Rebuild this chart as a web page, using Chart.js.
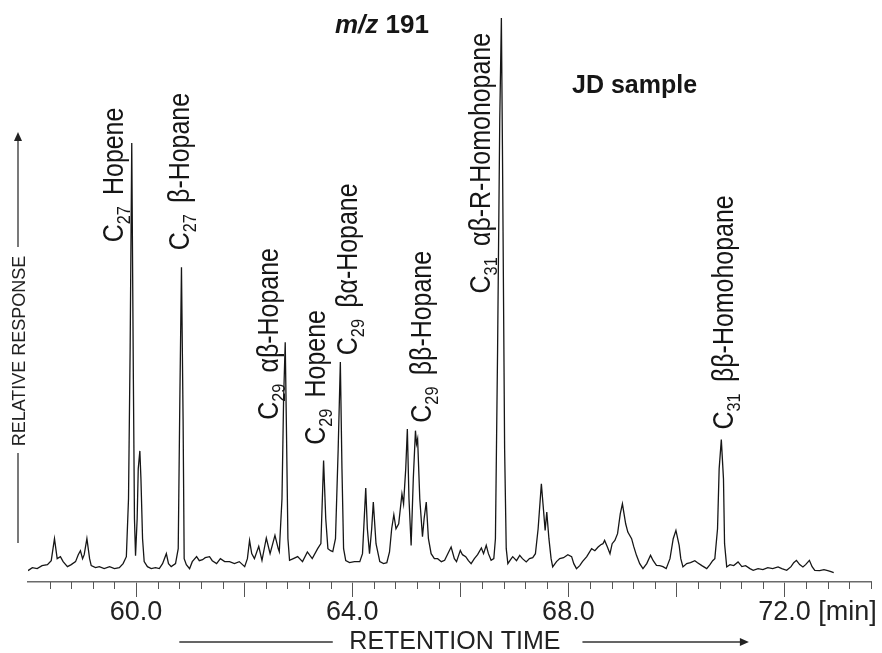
<!DOCTYPE html>
<html>
<head>
<meta charset="utf-8">
<title>m/z 191 - JD sample</title>
<script src="https://cdn.jsdelivr.net/npm/chart.js@4.4.1/dist/chart.umd.min.js"></script>
<style>
  html, body { margin: 0; padding: 0; background: #fff; }
  #wrap { width: 882px; height: 653px; position: relative; }
</style>
</head>
<body>
<div id="wrap"><canvas id="chrom"></canvas></div>
<script>
// retention time (min) and relative response (0-100)
const retentionTime = [
  58.00, 58.08, 58.17, 58.26, 58.36, 58.43, 58.49, 58.54, 58.60, 58.65, 58.73, 58.80, 58.88, 58.93, 58.97,
  59.01, 59.04, 59.09, 59.14, 59.17, 59.25, 59.32, 59.41, 59.51, 59.60, 59.69, 59.76, 59.82, 59.86, 59.89,
  59.92, 59.95, 59.97, 59.99, 60.02, 60.04, 60.07, 60.09, 60.12, 60.15, 60.21, 60.28, 60.36, 60.43, 60.49,
  60.56, 60.60, 60.65, 60.73, 60.78, 60.81, 60.84, 60.87, 60.89, 60.93, 60.99, 61.04, 61.12, 61.17, 61.23,
  61.28, 61.36, 61.41, 61.49, 61.56, 61.64, 61.73, 61.82, 61.91, 62.01, 62.06, 62.10, 62.14, 62.19, 62.27,
  62.33, 62.41, 62.48, 62.57, 62.63, 62.65, 62.70, 62.73, 62.76, 62.78, 62.81, 62.84, 62.91, 62.99, 63.08,
  63.17, 63.26, 63.36, 63.42, 63.47, 63.51, 63.55, 63.60, 63.64, 63.69, 63.74, 63.78, 63.81, 63.84, 63.88,
  63.95, 64.04, 64.14, 64.19, 64.25, 64.28, 64.32, 64.36, 64.39, 64.44, 64.51, 64.58, 64.64, 64.69, 64.73,
  64.77, 64.81, 64.86, 64.92, 64.95, 64.99, 65.02, 65.05, 65.09, 65.13, 65.17, 65.19, 65.21, 65.25, 65.30,
  65.33, 65.37, 65.41, 65.46, 65.52, 65.58, 65.65, 65.71, 65.76, 65.83, 65.89, 65.93, 66.00, 66.04, 66.10,
  66.15, 66.20, 66.26, 66.32, 66.39, 66.43, 66.48, 66.52, 66.57, 66.62, 66.65, 66.69, 66.73, 66.76, 66.78,
  66.82, 66.85, 66.88, 66.93, 66.97, 67.04, 67.10, 67.15, 67.22, 67.28, 67.34, 67.39, 67.44, 67.50, 67.53,
  67.57, 67.60, 67.64, 67.68, 67.71, 67.78, 67.84, 67.91, 67.99, 68.06, 68.10, 68.15, 68.21, 68.26, 68.34,
  68.43, 68.49, 68.55, 68.60, 68.64, 68.67, 68.72, 68.77, 68.81, 68.86, 68.91, 68.96, 69.00, 69.03, 69.06,
  69.10, 69.17, 69.21, 69.26, 69.32, 69.38, 69.45, 69.52, 69.57, 69.63, 69.69, 69.75, 69.81, 69.88, 69.94,
  69.99, 70.05, 70.08, 70.12, 70.19, 70.26, 70.34, 70.39, 70.47, 70.56, 70.62, 70.67, 70.71, 70.76, 70.79,
  70.83, 70.87, 70.89, 70.93, 70.99, 71.06, 71.14, 71.21, 71.28, 71.36, 71.42, 71.51, 71.60, 71.69, 71.78,
  71.88, 71.95, 72.04, 72.12, 72.17, 72.22, 72.28, 72.34, 72.39, 72.46, 72.51, 72.56, 72.65, 72.73, 72.80,
  72.86, 72.91
];
const response = [
  2.01, 2.53, 2.36, 2.89, 3.06, 3.76, 7.64, 4.12, 4.47, 3.59, 2.71, 3.06, 3.59, 4.82, 5.52,
  4.12, 4.82, 7.64, 4.12, 2.89, 2.53, 2.71, 2.36, 2.71, 2.36, 2.53, 3.24, 4.47, 14.67, 41.06,
  77.43, 35.78, 11.15, 4.64, 11.15, 19.95, 23.12, 18.19, 7.64, 3.59, 2.71, 2.36, 2.53, 2.36, 3.24,
  5.00, 3.24, 2.71, 3.24, 5.88, 32.27, 55.49, 28.75, 4.12, 3.06, 2.36, 3.59, 4.47, 3.76, 3.94,
  4.29, 4.47, 3.76, 3.24, 4.12, 3.59, 3.59, 3.24, 3.59, 2.71, 4.12, 7.34, 5.00, 4.12, 6.28,
  3.82, 7.76, 5.00, 8.22, 5.88, 5.35, 14.67, 32.27, 42.29, 28.75, 7.64, 3.82, 4.12, 4.47, 3.59,
  5.30, 4.12, 5.88, 6.76, 21.41, 11.15, 5.88, 5.52, 5.35, 7.64, 23.47, 38.78, 19.95, 5.88, 3.76,
  3.41, 3.59, 3.59, 5.00, 16.56, 9.39, 5.00, 9.39, 14.09, 6.76, 3.59, 3.24, 3.41, 5.30, 9.39,
  11.86, 9.39, 10.27, 15.55, 13.79, 19.95, 26.99, 14.67, 6.46, 18.19, 26.69, 24.35, 25.23, 14.67, 7.99,
  11.15, 14.09, 7.64, 5.00, 4.12, 4.12, 3.59, 3.82, 4.82, 6.18, 4.12, 3.59, 5.58, 4.82, 4.47,
  3.76, 3.24, 4.12, 4.82, 6.00, 5.00, 6.46, 5.00, 3.82, 4.12, 7.64, 41.06, 81.53, 99.47, 76.25,
  23.47, 5.88, 3.24, 3.94, 4.47, 3.76, 4.70, 4.12, 3.54, 4.12, 4.29, 5.00, 9.39, 17.31, 13.79,
  9.10, 12.33, 7.64, 4.12, 2.66, 3.59, 4.12, 4.29, 4.82, 4.47, 3.24, 2.36, 2.89, 3.59, 4.47,
  5.88, 5.52, 6.18, 6.58, 6.76, 7.34, 6.23, 5.00, 6.76, 7.34, 8.52, 12.03, 13.79, 12.03, 10.27,
  8.81, 7.64, 6.23, 4.70, 3.24, 2.36, 3.24, 4.70, 3.76, 2.94, 2.89, 2.71, 2.36, 4.12, 7.64,
  9.10, 6.46, 4.12, 2.66, 3.24, 3.41, 3.76, 3.41, 2.89, 2.36, 3.06, 3.76, 4.12, 9.39, 19.95,
  25.11, 18.19, 6.76, 2.66, 3.06, 2.89, 3.54, 2.71, 2.89, 2.36, 2.06, 2.36, 2.18, 2.53, 2.36,
  2.66, 2.36, 2.06, 2.71, 3.41, 3.82, 3.06, 2.66, 3.06, 3.82, 2.71, 2.06, 2.01, 2.18, 2.01,
  1.83, 1.65
];

// axis
const timeMin = 58.0;
const timeMax = 73.6;
const tickStep = 0.4;
const majorStep = 2;
const labeledTicks = [60, 64, 68, 72];
const timeUnit = '[min]';
const xTitle = 'RETENTION TIME';
const yTitle = 'RELATIVE RESPONSE';

// peak names: carbon number (subscript) + compound
const peakCarbon = ['27', '27', '29', '29', '29', '29', '31', '31'];
const peakName = ['Hopene', '\u03B2-Hopane', '\u03B1\u03B2-Hopane', 'Hopene', '\u03B2\u03B1-Hopane',
                  '\u03B2\u03B2-Hopane', '\u03B1\u03B2-R-Homohopane', '\u03B2\u03B2-Homohopane'];
// where each rotated label starts (time at text baseline, response at text start)
const labelTime = [59.76, 60.98, 62.63, 63.50, 64.08, 65.45, 66.55, 71.05];
const labelResp = [59.9, 58.5, 28.6, 24.2, 40.0, 28.1, 50.9, 26.9];

const FONT = '"Liberation Sans", Arial, Helvetica, sans-serif';
const INK = '#161616';

const isMajor = v => Math.abs(v / majorStep - Math.round(v / majorStep)) < 1e-6 && v > timeMin + 1e-6;

function drawPeakLabel(ctx, px, py, sub, name){
  ctx.save();
  ctx.translate(px, py);
  ctx.rotate(-Math.PI / 2);
  ctx.scale(0.86, 1);
  ctx.fillStyle = INK;
  ctx.textAlign = 'left';
  ctx.textBaseline = 'alphabetic';
  ctx.font = `29px ${FONT}`;
  ctx.fillText('C', 0, 0);
  let w = ctx.measureText('C').width;
  ctx.font = `19px ${FONT}`;
  ctx.fillText(sub, w, 7);
  w += ctx.measureText(sub).width + 13;
  ctx.font = `29px ${FONT}`;
  ctx.fillText(name, w, 0);
  ctx.restore();
}

const decor = {
  id: 'decor',
  afterDraw(chart){
    const {ctx, chartArea: a, scales: {x, y}} = chart;
    ctx.save();

    // minor ticks
    ctx.strokeStyle = '#555';
    ctx.lineWidth = 1;
    x.ticks.forEach(tk => {
      if (isMajor(tk.value) || tk.value <= timeMin + 1e-6) return;
      const px = Math.round(x.getPixelForValue(tk.value)) + 0.5;
      ctx.beginPath(); ctx.moveTo(px, a.bottom); ctx.lineTo(px, a.bottom + 7); ctx.stroke();
    });

    // unit after the last labelled tick
    ctx.font = `27px ${FONT}`;
    ctx.fillStyle = '#222';
    ctx.textBaseline = 'middle';
    ctx.textAlign = 'left';
    const last = labeledTicks[labeledTicks.length - 1];
    const ux = x.getPixelForValue(last) + ctx.measureText(last.toFixed(1)).width / 2 + ctx.measureText(' ').width;
    ctx.fillText(timeUnit, ux, a.bottom + 15 + 2 + 13.5);

    // retention time title with arrows
    const ay = 642;
    ctx.font = `25px ${FONT}`;
    ctx.textAlign = 'center';
    ctx.fillText(xTitle, x.getPixelForValue(65.9), ay);
    ctx.strokeStyle = '#333';
    ctx.lineWidth = 1.3;
    ctx.beginPath();
    ctx.moveTo(x.getPixelForValue(60.8), ay); ctx.lineTo(x.getPixelForValue(63.64), ay);
    ctx.moveTo(x.getPixelForValue(68.26), ay); ctx.lineTo(x.getPixelForValue(71.2), ay);
    ctx.stroke();
    const tipX = x.getPixelForValue(71.34);
    ctx.fillStyle = '#222';
    ctx.beginPath();
    ctx.moveTo(tipX, ay); ctx.lineTo(tipX - 9, ay - 4); ctx.lineTo(tipX - 9, ay + 4); ctx.closePath(); ctx.fill();

    // relative response label with arrow
    const lx = 18;
    ctx.beginPath();
    ctx.moveTo(lx, 247); ctx.lineTo(lx, 140);
    ctx.moveTo(lx, 453); ctx.lineTo(lx, 543);
    ctx.stroke();
    ctx.beginPath();
    ctx.moveTo(lx, 132); ctx.lineTo(lx - 4, 141); ctx.lineTo(lx + 4, 141); ctx.closePath(); ctx.fill();
    ctx.save();
    ctx.translate(lx + 6.5, 351);
    ctx.rotate(-Math.PI / 2);
    ctx.font = `18px ${FONT}`;
    ctx.textAlign = 'center';
    ctx.textBaseline = 'alphabetic';
    ctx.fillText(yTitle, 0, 0);
    ctx.restore();

    // header texts
    ctx.fillStyle = INK;
    ctx.textAlign = 'left';
    ctx.textBaseline = 'alphabetic';
    ctx.font = `italic bold 26px ${FONT}`;
    ctx.fillText('m/z', 335, 33);
    const mw = ctx.measureText('m/z').width;
    ctx.font = `bold 26px ${FONT}`;
    ctx.fillText(' 191', 335 + mw, 33);
    ctx.font = `bold 25px ${FONT}`;
    ctx.fillText('JD sample', 572, 93);

    // peak labels
    peakName.forEach((name, i) => {
      drawPeakLabel(ctx, x.getPixelForValue(labelTime[i]), y.getPixelForValue(labelResp[i]), peakCarbon[i], name);
    });

    ctx.restore();
  }
};

const points = retentionTime.map((t, i) => ({x: t, y: response[i]}));

new Chart(document.getElementById('chrom'), {
  type: 'line',
  data: {
    datasets: [{
      data: points,
      borderColor: INK,
      borderWidth: 1.3,
      pointRadius: 0,
      tension: 0,
      fill: false
    }]
  },
  options: {
    responsive: true,
    maintainAspectRatio: false,
    animation: false,
    devicePixelRatio: 1,
    layout: {padding: {left: 28, right: 11, top: 15, bottom: 25}},
    plugins: {legend: {display: false}, tooltip: {enabled: false}},
    scales: {
      x: {
        type: 'linear',
        min: timeMin,
        max: timeMax,
        border: {display: true, color: '#6a6a6a', width: 1.6},
        grid: {
          display: true,
          drawOnChartArea: false,
          drawTicks: true,
          tickLength: 15,
          tickWidth: 1,
          tickColor: c => (c.tick && isMajor(c.tick.value)) ? '#555' : 'rgba(0,0,0,0)'
        },
        ticks: {
          stepSize: tickStep,
          autoSkip: false,
          maxRotation: 0,
          padding: 2,
          color: '#222',
          font: {family: FONT, size: 27, lineHeight: 1},
          callback: v => labeledTicks.some(l => Math.abs(l - v) < 1e-6) ? Number(v).toFixed(1) : ''
        }
      },
      y: {
        display: false,
        min: 0,
        max: 100
      }
    }
  },
  plugins: [decor]
});
</script>
</body>
</html>
